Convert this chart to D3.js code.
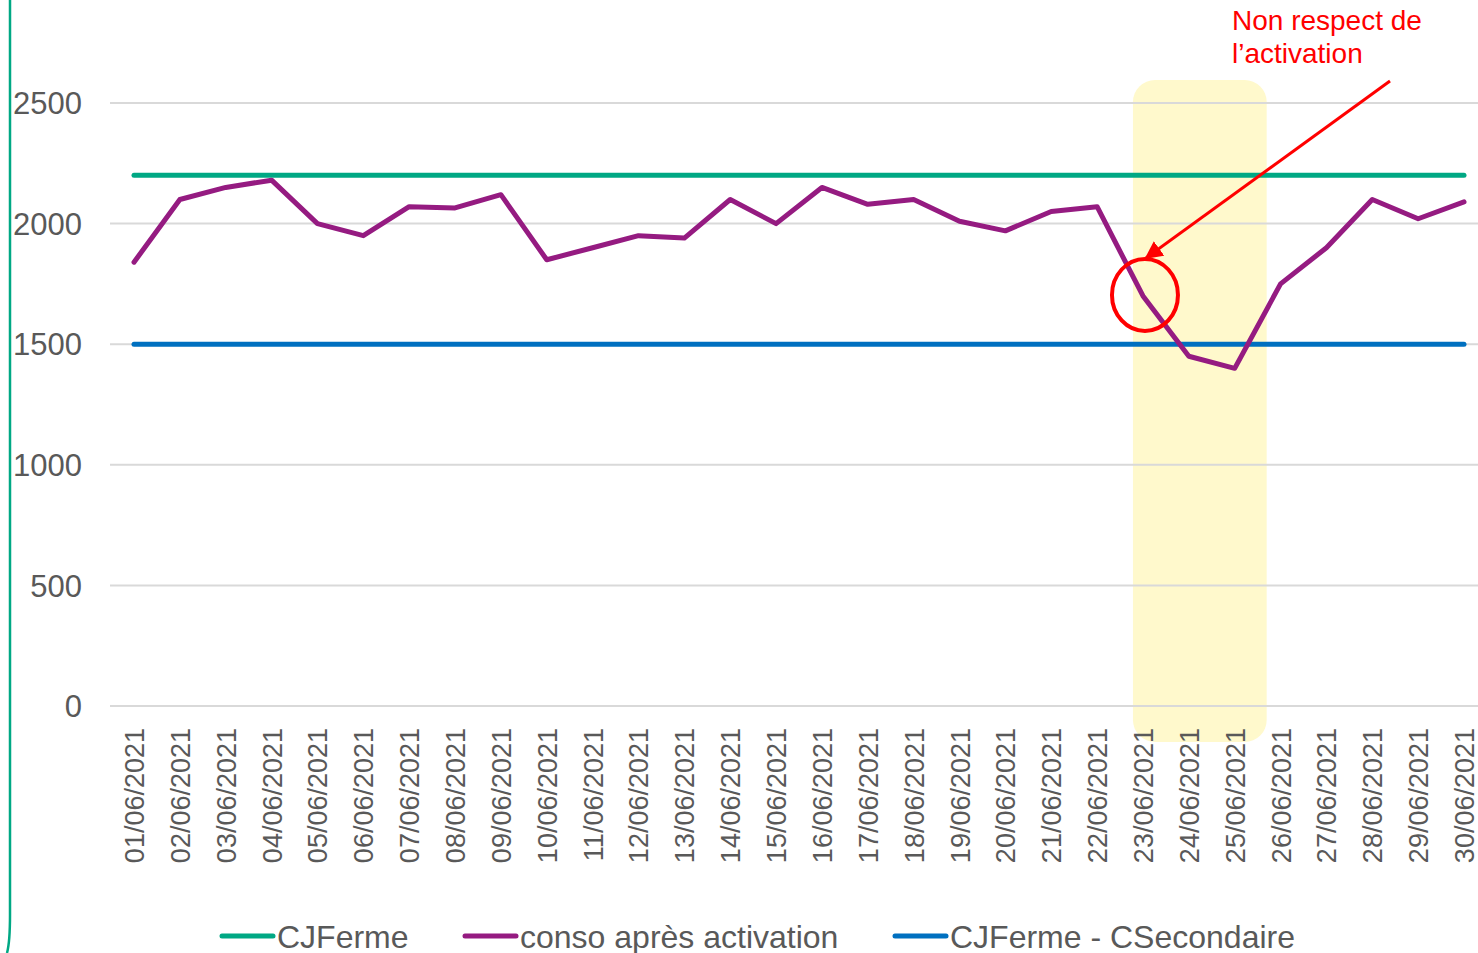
<!DOCTYPE html>
<html>
<head>
<meta charset="utf-8">
<script src="https://cdn.jsdelivr.net/npm/d3@7"></script>
<style>
  body { margin: 0; background: #fff; }
  svg { display: block; font-family: "Liberation Sans", Arial, sans-serif; }
</style>
</head>
<body>
<svg id="chart"></svg>
<script>
// data
const dates = d3.range(1, 31).map(d => String(d).padStart(2, '0') + '/06/2021')
const conso = [1840, 2100, 2150, 2180, 2000, 1950, 2070, 2065, 2120, 1850,
               1900, 1950, 1940, 2100, 2000, 2150, 2080, 2100, 2010, 1970,
               2050, 2070, 1700, 1450, 1400, 1750, 1900, 2100, 2020, 2090]
const cjFerme = 2200
const cjFermeSec = 1500
const yTicks = [0, 500, 1000, 1500, 2000, 2500]
const highlightDays = ['23/06/2021', '25/06/2021']
const annotation = ['Non respect de', 'l\u2019activation']
const legendItems = ['CJFerme', 'conso après activation', 'CJFerme - CSecondaire']

const width = 1478
const height = 953
const green = '#00A884'
const purple = '#951B81'
const blue = '#0070C0'

const svg = d3.select('#chart')
    .attr('width', width)
    .attr('height', height)

const x = d3.scalePoint()
    .domain(dates)
    .range([134, 1464])

const y = d3.scaleLinear()
    .domain([0, 2500])
    .range([706, 103])

// left frame border
svg.append('path')
    .attr('d', 'M10,0 L10,915 Q10,942 7,953')
    .attr('fill', 'none')
    .attr('stroke', green)
    .attr('stroke-width', 2.5)

// yellow highlight zone
svg.append('rect')
    .attr('x', x(highlightDays[0]) - 10)
    .attr('y', y(2500) - 23)
    .attr('width', x(highlightDays[1]) - x(highlightDays[0]) + 42)
    .attr('height', y(0) - y(2500) + 59)
    .attr('rx', 22)
    .attr('fill', '#FFF9CC')

// grid
svg.append('g')
    .selectAll('line')
    .data(yTicks)
    .enter()
    .append('line')
    .attr('x1', 110)
    .attr('x2', width)
    .attr('y1', d => y(d))
    .attr('y2', d => y(d))
    .attr('stroke', '#D9D9D9')
    .attr('stroke-width', 2)

// y labels
svg.append('g')
    .selectAll('text')
    .data(yTicks)
    .enter()
    .append('text')
    .attr('x', 82)
    .attr('y', d => y(d))
    .attr('dy', '0.36em')
    .attr('text-anchor', 'end')
    .attr('font-size', 31)
    .attr('fill', '#595959')
    .text(d => d)

// x labels
svg.append('g')
    .selectAll('text')
    .data(dates)
    .enter()
    .append('text')
    .attr('transform', d => 'translate(' + (x(d) + 10) + ',728) rotate(-90)')
    .attr('text-anchor', 'end')
    .attr('font-size', 27)
    .attr('fill', '#595959')
    .text(d => d)

// constant lines
const flat = [{v: cjFerme, c: green}, {v: cjFermeSec, c: blue}]
svg.append('g')
    .selectAll('line')
    .data(flat)
    .enter()
    .append('line')
    .attr('x1', x(dates[0]))
    .attr('x2', x(dates[dates.length - 1]))
    .attr('y1', d => y(d.v))
    .attr('y2', d => y(d.v))
    .attr('stroke', d => d.c)
    .attr('stroke-width', 5)
    .attr('stroke-linecap', 'round')

// conso line
const line = d3.line()
    .x((d, i) => x(dates[i]))
    .y(d => y(d))

svg.append('path')
    .datum(conso)
    .attr('d', line)
    .attr('fill', 'none')
    .attr('stroke', purple)
    .attr('stroke-width', 5)
    .attr('stroke-linecap', 'round')
    .attr('stroke-linejoin', 'round')

// annotation
const red = '#FF0000'
svg.append('defs').append('marker')
    .attr('id', 'head')
    .attr('viewBox', '0 0 10 10')
    .attr('refX', 9)
    .attr('refY', 5)
    .attr('markerWidth', 6)
    .attr('markerHeight', 6)
    .attr('markerUnits', 'strokeWidth')
    .attr('orient', 'auto')
    .append('path')
    .attr('d', 'M0,0 L10,5 L0,10 Z')
    .attr('fill', red)

svg.append('line')
    .attr('x1', 1390)
    .attr('y1', 81)
    .attr('x2', 1146)
    .attr('y2', 258)
    .attr('stroke', red)
    .attr('stroke-width', 3)
    .attr('marker-end', 'url(#head)')

svg.append('ellipse')
    .attr('cx', x('23/06/2021') + 2)
    .attr('cy', y(conso[22]) - 1)
    .attr('rx', 33)
    .attr('ry', 36)
    .attr('fill', 'none')
    .attr('stroke', red)
    .attr('stroke-width', 4)

svg.append('g')
    .selectAll('text')
    .data(annotation)
    .enter()
    .append('text')
    .attr('x', 1232)
    .attr('y', (d, i) => 30 + i * 33)
    .attr('font-size', 28)
    .attr('fill', red)
    .text(d => d)

// legend
const legendX = [220, 463, 893]
const legendColors = [green, purple, blue]
const legend = svg.append('g')
    .selectAll('g')
    .data(legendItems)
    .enter()
    .append('g')
    .attr('transform', (d, i) => 'translate(' + legendX[i] + ',936)')
legend.append('line')
    .attr('x1', 2)
    .attr('x2', 53)
    .attr('stroke', (d, i) => legendColors[i])
    .attr('stroke-width', 5)
    .attr('stroke-linecap', 'round')
legend.append('text')
    .attr('x', 57)
    .attr('dy', '0.36em')
    .attr('font-size', 32)
    .attr('fill', '#595959')
    .text(d => d)
</script>
</body>
</html>
